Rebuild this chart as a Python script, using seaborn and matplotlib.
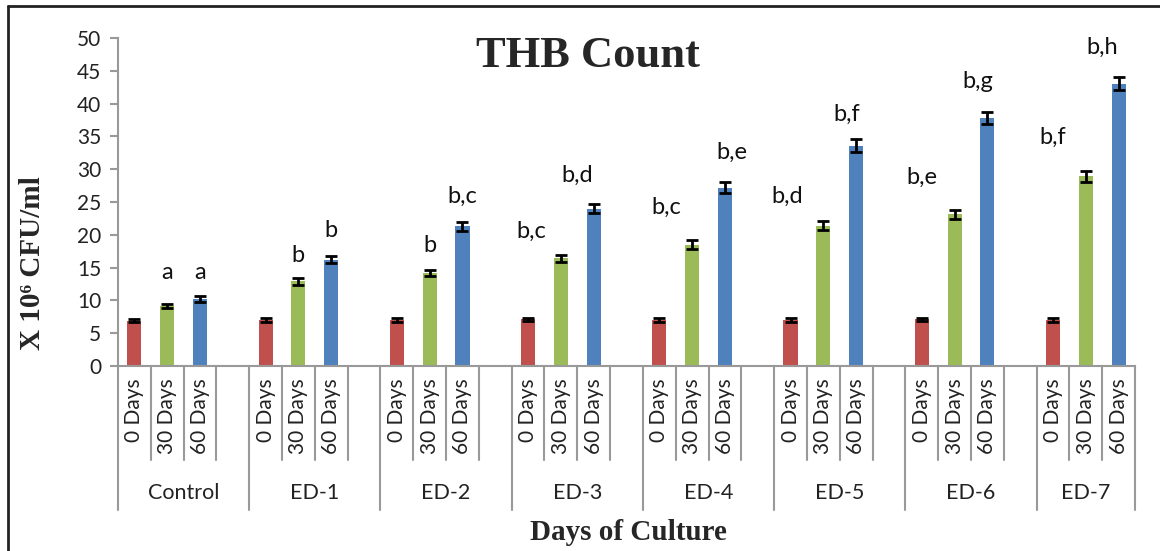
import numpy as np
import pandas as pd
import matplotlib
matplotlib.use("Agg")
import matplotlib.pyplot as plt
import seaborn as sns

# ---------------- data ----------------
groups = ["Control", "ED-1", "ED-2", "ED-3", "ED-4", "ED-5", "ED-6", "ED-7"]
days = ["0 Days", "30 Days", "60 Days"]
day0 = [6.9, 7.0, 7.0, 7.1, 7.0, 7.0, 7.1, 7.0]
day30 = [9.2, 12.9, 14.2, 16.4, 18.5, 21.4, 23.1, 28.9]
day60 = [10.2, 16.2, 21.3, 24.0, 27.2, 33.6, 37.8, 43.0]
err0 = [0.25, 0.25, 0.25, 0.25, 0.25, 0.25, 0.25, 0.25]
err30 = [0.3, 0.5, 0.5, 0.55, 0.65, 0.65, 0.75, 0.8]
err60 = [0.5, 0.55, 0.65, 0.75, 0.85, 1.0, 0.9, 1.0]

sig_labels = ["a", "a", "b", "b", "b", "b,c", "b,c", "b,d",
              "b,c", "b,e", "b,d", "b,f", "b,e", "b,g", "b,f", "b,h"]
label_x = [1.0, 2.0, 5.0, 6.0, 9.0, 10.0, 12.1, 13.5,
           16.2, 18.2, 19.9, 21.7, 24.0, 25.7, 28.0, 29.5]
label_y = [14.3, 14.3, 16.9, 20.7, 18.3, 25.8, 20.6, 29.1,
           24.2, 32.5, 25.8, 38.3, 28.8, 43.3, 34.9, 48.5]

title = "THB Count"
ylabel = "X 10\u2076 CFU/ml"
xlabel = "Days of Culture"
yticks = [0, 5, 10, 15, 20, 25, 30, 35, 40, 45, 50]

colors = {"0 Days": "#C0504D", "30 Days": "#9BBB59", "60 Days": "#4F81BD"}

# ---------------- table ----------------
rows = []
for g, grp in enumerate(groups):
    for j, (vals, errs) in enumerate([(day0, err0), (day30, err30), (day60, err60)]):
        rows.append({"group": grp, "day": days[j], "pos": 4 * g + j,
                     "value": vals[g], "err": errs[g]})
df = pd.DataFrame(rows)

# ---------------- figure ----------------
sns.set_theme(style="white")
plt.rcParams["font.family"] = ["Lato", "DejaVu Sans"]

W, H = 1160, 551
fig = plt.figure(figsize=(W / 100, H / 100), dpi=100)
ax = fig.add_axes([118 / W, 1 - 366 / H, 1017 / W, 328 / H])

sns.barplot(data=df, x="pos", y="value", hue="day", palette=colors,
            native_scale=True, dodge=False, width=0.43, errorbar=None,
            legend=False, ax=ax, edgecolor="none", saturation=1)
ax.errorbar(df["pos"], df["value"], yerr=df["err"], fmt="none",
            ecolor="black", elinewidth=2, capsize=4, capthick=2, zorder=5)

ax.set_xlim(-0.5, 30.5)
ax.set_ylim(0, 50)
ax.set_yticks(yticks)
ax.set_yticklabels([str(t) for t in yticks], fontsize=15, color="#222222")
ax.tick_params(axis="y", direction="out", length=6, width=1.5, color="#999999", pad=6, left=True)
ax.set_xticks([])
ax.set_xlabel("")
ax.set_ylabel("")
for s in ["top", "right"]:
    ax.spines[s].set_visible(False)
for s in ["left", "bottom"]:
    ax.spines[s].set_color("#999999")
    ax.spines[s].set_linewidth(1.5)

# multi-level category axis
trans = ax.get_xaxis_transform()
short_y = (366 - 460) / 328
long_y = (366 - 510) / 328
for g in range(len(groups)):
    ax.plot([4 * g - 0.5] * 2, [0, long_y], transform=trans, clip_on=False,
            color="#999999", lw=1.5)
    for j in range(3):
        ax.text(4 * g + j, (366 - 378) / 328, days[j], transform=trans,
                rotation=90, ha="center", va="top", fontsize=15, color="#222222")
        if g < len(groups) - 1 or j < 2:
            ax.plot([4 * g + j + 0.5] * 2, [0, short_y], transform=trans,
                    clip_on=False, color="#999999", lw=1.5)
    ax.text(4 * g + 1.0 + (0.5 if g < len(groups) - 1 else 0.0), (366 - 493) / 328,
            groups[g], transform=trans, ha="center", va="center",
            fontsize=15.5, color="#222222")
ax.plot([30.5] * 2, [0, long_y], transform=trans, clip_on=False,
        color="#999999", lw=1.5)

# significance letters
for lab, lx, ly in zip(sig_labels, label_x, label_y):
    ax.text(lx, ly, lab, ha="center", va="center", fontsize=17, color="#111111")

# titles
serif = ["Liberation Serif", "DejaVu Serif"]
fig.text(588 / W, 1 - 67 / H, title, ha="center", va="baseline",
         fontsize=32, fontweight="bold", family=serif)
fig.text(628 / W, 1 - 540 / H, xlabel, ha="center", va="baseline",
         fontsize=21, fontweight="bold", family=serif)
fig.text(33 / W, 1 - 263 / H, ylabel, ha="center", va="center", rotation=90,
         fontsize=21, fontweight="bold", family=serif)

# outer frame (left and top visible)
fig.add_artist(plt.Line2D([8 / W, 8 / W], [0, 1 - 6 / H], color="#222222", lw=2))
fig.add_artist(plt.Line2D([8 / W, 1], [1 - 6 / H, 1 - 6 / H], color="#222222", lw=2))

fig.savefig("out.png", dpi=100)
